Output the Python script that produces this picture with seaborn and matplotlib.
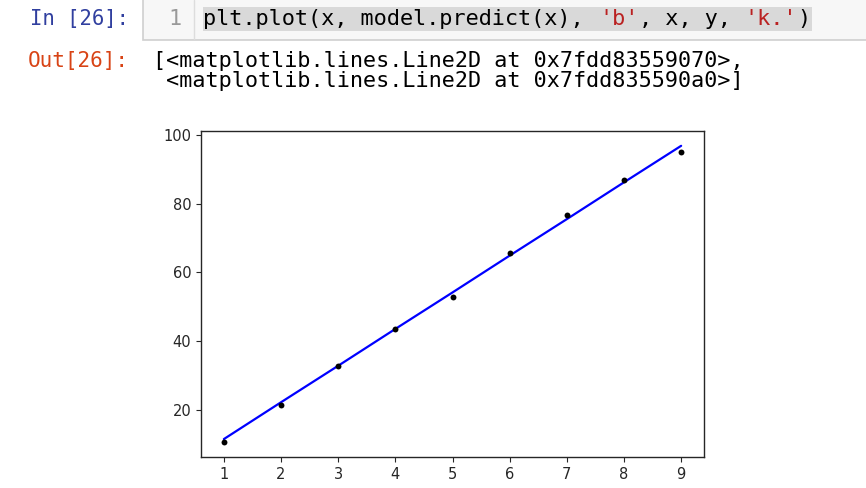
import matplotlib
matplotlib.use("Agg")
import matplotlib.pyplot as plt
import seaborn as sns
from matplotlib.patches import Rectangle

# data
x_vals = [1, 2, 3, 4, 5, 6, 7, 8, 9]
y_obs = [10.7, 21.6, 32.8, 43.6, 52.9, 65.8, 76.8, 86.8, 95.0]
y_pred = [11.6, 22.3, 32.9, 43.6, 54.2, 64.9, 75.5, 86.2, 96.8]
y_ticks = [20, 40, 60, 80, 100]

code_parts = [("plt.plot(x, model.predict(x), ", "black"),
              ("'b'", "#BA2121"),
              (", x, y, ", "black"),
              ("'k.'", "#BA2121"),
              (")", "black")]
out_lines = ["[<matplotlib.lines.Line2D at 0x7fdd83559070>,",
             " <matplotlib.lines.Line2D at 0x7fdd835590a0>]"]

sns.set_style("ticks")
plt.rcParams['font.family'] = ['DejaVu Sans']

W, H = 866, 488
fig = plt.figure(figsize=(W / 100, H / 100), dpi=100)


def fx(px):
    return px / W


def fy(py):
    return 1 - py / H


mono = "DejaVu Sans Mono"
cw = 13.2  # pixel width of one code character
fs = cw / 0.602 * 72 / 100

# code cell
fig.patches.append(Rectangle((fx(143), fy(40)), fx(W + 5) - fx(143), fy(-5) - fy(40),
                             transform=fig.transFigure, facecolor="#f7f7f7",
                             edgecolor="#cfcfcf", linewidth=1.2))
fig.lines.append(plt.Line2D([fx(194), fx(194)], [fy(0), fy(39)],
                            transform=fig.transFigure, color="#dddddd", lw=1))
fig.patches.append(Rectangle((fx(203), fy(31)), fx(812) - fx(203), fy(7) - fy(31),
                             transform=fig.transFigure, facecolor="#d9d9d9",
                             edgecolor="none"))

fig.text(fx(30), fy(25), "In [26]:", family=mono, fontsize=fs * 0.94,
         color="#303F9F", va="baseline")
fig.text(fx(175), fy(25), "1", family=mono, fontsize=fs, color="#999999",
         va="baseline", ha="center")

pos = 0
for txt, col in code_parts:
    fig.text(fx(203 + pos * cw), fy(25), txt, family=mono, fontsize=fs,
             color=col, va="baseline")
    pos += len(txt)

fig.text(fx(28), fy(67), "Out[26]:", family=mono, fontsize=fs * 0.96,
         color="#D84315", va="baseline")
for i, line in enumerate(out_lines):
    fig.text(fx(153), fy(67 + 20 * i), line, family=mono, fontsize=fs * 0.99,
             color="black", va="baseline")

# plot area
ax = fig.add_axes([fx(201), fy(457), fx(704) - fx(201), fy(131) - fy(457)])
sns.lineplot(x=x_vals, y=y_pred, color="b", linewidth=1.6, ax=ax)
sns.scatterplot(x=x_vals, y=y_obs, color="k", s=18, linewidth=0, ax=ax, zorder=3)
ax.set_xticks(x_vals)
ax.set_yticks(y_ticks)
ax.tick_params(labelsize=10.5)
for sp in ax.spines.values():
    sp.set_linewidth(1.0)

fig.savefig("out.png", dpi=100)
